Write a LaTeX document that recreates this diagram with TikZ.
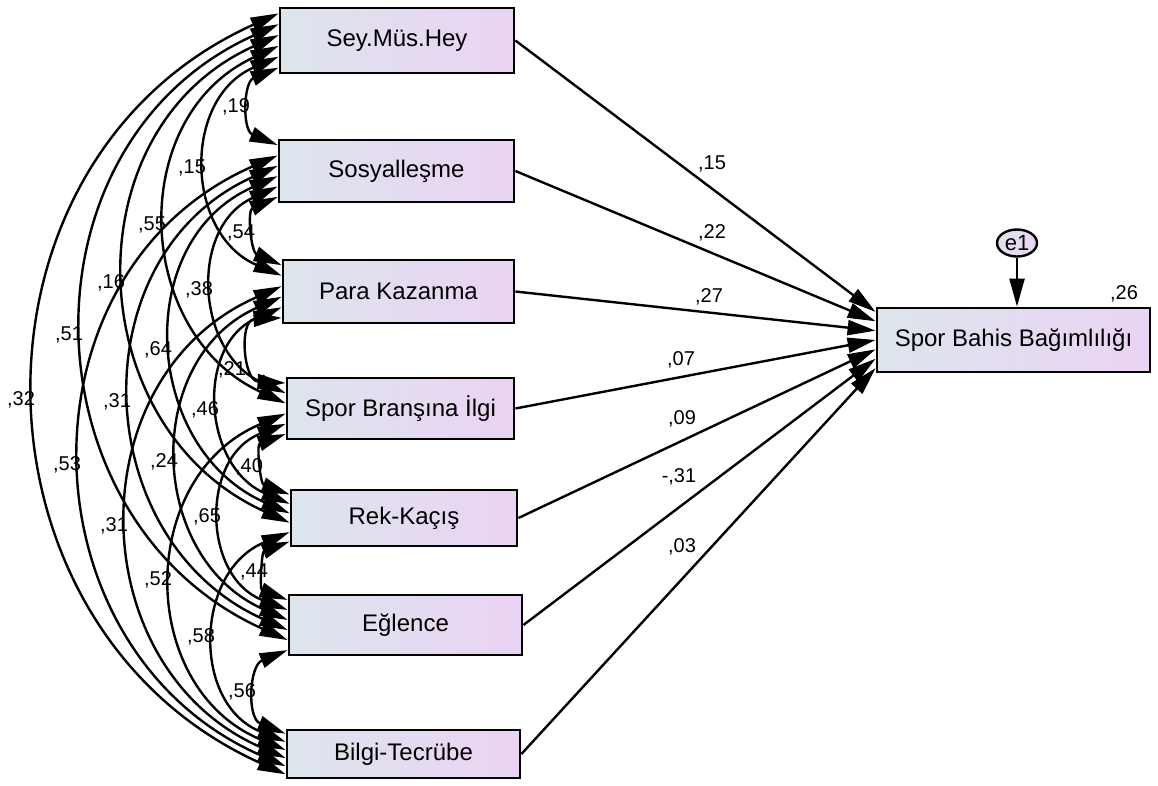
\documentclass[tikz,border=0pt]{standalone}
\usepackage{fontspec}
\setmainfont{Liberation Sans}
\usetikzlibrary{arrows.meta,calc,shapes.geometric}
\definecolor{boxl}{RGB}{221,229,236}
\definecolor{boxr}{RGB}{234,211,244}
\begin{document}
\begin{tikzpicture}[x=1pt,y=-1pt,
  box/.style={draw=black, line width=2.8pt, left color=boxl, right color=boxr, inner sep=0pt, font=\fontsize{24}{28}\selectfont},
  coef/.style={inner sep=0pt, font=\fontsize{20}{23}\selectfont},
  corr/.style={line width=2.4pt, {Triangle[length=28pt,width=15pt]}-{Triangle[length=28pt,width=15pt]}},
  effect/.style={line width=2.4pt, -{Triangle[length=28pt,width=15pt]}}]
\useasboundingbox (0,0) rectangle (1158,785);
% observed variables
\node[box, minimum width=234pt, minimum height=65pt] (b1) at (397,40.5) {Sey.Müs.Hey};
\node[box, minimum width=235pt, minimum height=62pt] (b2) at (396.5,171) {Sosyalleşme};
\node[box, minimum width=231pt, minimum height=63pt] (b3) at (398.5,291.5) {Para Kazanma};
\node[box, minimum width=227pt, minimum height=61pt] (b4) at (400.5,408.5) {Spor Branşına İlgi};
\node[box, minimum width=226pt, minimum height=56pt] (b5) at (404,518) {Rek-Kaçış};
\node[box, minimum width=233pt, minimum height=60pt] (b6) at (405.5,625) {Eğlence};
\node[box, minimum width=233pt, minimum height=48pt] (b7) at (403.5,754) {Bilgi-Tecrübe};
\node[box, minimum width=273pt, minimum height=64pt] (tgt) at (1013.5,340) {Spor Bahis Bağımlılığı};
\node[draw, ellipse, line width=2.4pt, left color=boxl, right color=boxr, minimum width=40pt, minimum height=27pt, inner sep=0pt, font=\fontsize{22}{24}\selectfont] (e1) at (1017,243) {e1};
\draw[line width=2.4pt, -{Triangle[length=28pt,width=15pt]}] (e1) -- (e1 |- tgt.north);
\node[coef] (r2) at (1124,294) {,26};
% correlations
\def\tops{{8,140,260,378,490,595,730}}
\def\hts{{65,62,63,61,56,60,48}}
\def\lefts{{280,279,283,287,291,289,287}}
\foreach \i/\j/\X/\lab/\lx/\ly in {
  1/2/253/{,19}/236/107, 1/3/209/{,15}/192/168, 1/4/169/{,55}/152/225,
  1/5/128/{,16}/111/283, 1/6/86/{,51}/69/335, 1/7/38/{,32}/21/400,
  2/3/258/{,54}/241/233, 2/4/216/{,38}/199/290, 2/5/175/{,64}/158/350,
  2/6/134/{,31}/117/402, 2/7/84/{,53}/67/465,
  3/4/253/{,21}/232/370, 3/5/222/{,46}/205/410, 3/6/181/{,24}/164/462,
  3/7/131/{,31}/114/526,
  4/5/267/{,40}/249/467, 4/6/224/{,65}/207/517, 4/7/175/{,52}/158/580,
  5/6/269/{,44}/254/572, 5/7/218/{,58}/201/637,
  6/7/259/{,56}/242/692}{
  \pgfmathtruncatemacro\myKa{\i-1+7-\j}
  \pgfmathtruncatemacro\myKb{\j-1-\i}
  \pgfmathsetmacro\myFa{0.1+0.16*\myKa}
  \pgfmathsetmacro\myFb{0.1+0.16*\myKb}
  \pgfmathsetmacro\myYa{\tops[\i-1]+\hts[\i-1]*\myFa}
  \pgfmathsetmacro\myYb{\tops[\j-1]+\hts[\j-1]*\myFb}
  \pgfmathsetmacro\myXa{\lefts[\i-1]}
  \pgfmathsetmacro\myXb{\lefts[\j-1]}
  \pgfmathsetmacro\myC{\myYb-\myYa}
  \pgfmathsetmacro\myH{(\myXa+\myXb)/2-\X}
  \pgfmathsetmacro\myE{4*\myH/3}
  \pgfmathsetmacro\myR{\myH/\myC}
  \pgfmathsetmacro\myK{\myC/3-4/3*\myH*\myR}
  \coordinate (p\i\j) at ($(b\i.north west)!\myFa!(b\i.south west)$);
  \coordinate (q\i\j) at ($(b\j.north west)!\myFb!(b\j.south west)$);
  \draw[corr] (p\i\j) .. controls ($(p\i\j)+(-\myE,\myK)$) and ($(q\i\j)+(-\myE,-\myK)$) .. (q\i\j);
  \node[coef] (l\i\j) at (\lx,\ly) {\lab};
}
% regression paths
\foreach \i/\lab/\lx/\ly in {1/{,15}/712/164, 2/{,22}/712/233, 3/{,27}/709/297,
  4/{,07}/681/360, 5/{,09}/682/419, 6/{-,31}/679/477, 7/{,03}/682/547}{
  \pgfmathsetmacro\myF{0.08+0.14*(\i-1)}
  \coordinate (t\i) at ($(tgt.north west)!\myF!(tgt.south west)$);
  \draw[effect] (b\i.east) -- (t\i);
  \node[coef] (w\i) at (\lx,\ly) {\lab};
}
\end{tikzpicture}
\end{document}
